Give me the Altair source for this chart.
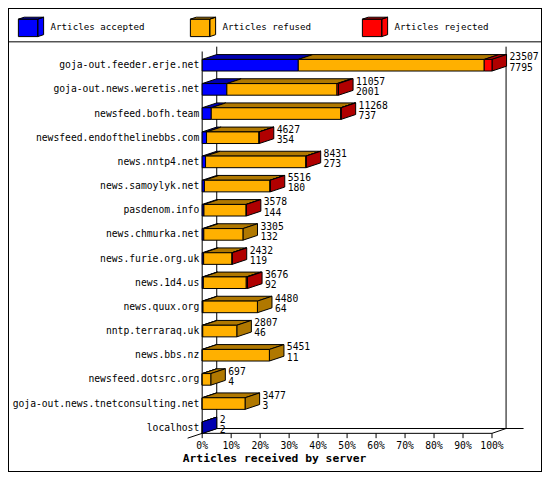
import altair as alt
import pandas as pd

# ---------------- data ----------------
servers = [
    "goja-out.feeder.erje.net",
    "goja-out.news.weretis.net",
    "newsfeed.bofh.team",
    "newsfeed.endofthelinebbs.com",
    "news.nntp4.net",
    "news.samoylyk.net",
    "pasdenom.info",
    "news.chmurka.net",
    "news.furie.org.uk",
    "news.1d4.us",
    "news.quux.org",
    "nntp.terraraq.uk",
    "news.bbs.nz",
    "newsfeed.dotsrc.org",
    "goja-out.news.tnetconsulting.net",
    "localhost",
]
offered = [23507, 11057, 11268, 4627, 8431, 5516, 3578, 3305, 2432, 3676, 4480, 2807, 5451, 697, 3477, 2]
accepted = [7795, 2001, 737, 354, 273, 180, 144, 132, 119, 92, 64, 46, 11, 4, 3, 2]
refused = [15082, 8936, 10506, 4253, 8138, 5321, 3424, 3173, 2303, 3484, 4416, 2761, 5440, 693, 3474, 0]
rejected = [630, 120, 25, 20, 20, 15, 10, 0, 10, 100, 0, 0, 0, 0, 0, 0]

kinds = ["Articles accepted", "Articles refused", "Articles rejected"]
front_colors = ["#0000FF", "#FFB000", "#FF0000"]
dark_colors = ["#0000B0", "#B07800", "#B00000"]
tick_values = [0, 10, 20, 30, 40, 50, 60, 70, 80, 90, 100]
x_title = "Articles received by server"

# ---------------- layout (reference pixels -> scale units) ----------------
W, H = 534, 464
PX0, PX100 = 200.0, 498.5
PPU = (PX100 - PX0) / 100.0
ROW0, ROWSTEP = 59.2, 25.0


def ux(px):
    return (px - PX0) / PPU


def uy(py):
    return (py - ROW0) / ROWSTEP


DX = 15 / PPU          # 3D depth, horizontal
DY = 5 / ROWSTEP       # 3D depth, vertical
HALF = 6 / ROWSTEP     # half height of a bar front face
FONT = "DejaVu Sans Mono"

xscale = alt.Scale(domain=[ux(0), ux(550)], nice=False, zero=False)
yscale = alt.Scale(domain=[uy(0), uy(480)], nice=False, zero=False, reverse=True)


def X(f):
    return alt.X(f, type="quantitative", scale=xscale, axis=None, stack=None)


def Y(f):
    return alt.Y(f, type="quantitative", scale=yscale, axis=None, stack=None)


maxv = max(offered)

front_rows, top_rows, side_rows, val_rows, cat_rows = [], [], [], [], []
for i, name in enumerate(servers):
    vals = [accepted[i], refused[i], rejected[i]]
    cum = 0.0
    last = 0
    for k, v in enumerate(vals):
        if v <= 0:
            continue
        s = cum / maxv * 100
        e = (cum + v) / maxv * 100
        cum += v
        last = k
        sid = f"{i}-{k}"
        front_rows.append(dict(kind=kinds[k], x0=s, x1=e, ya=i - HALF, yb=i + HALF))
        top_rows.append(dict(id=sid, dark=dark_colors[k], y=i - HALF, xa=s, xb=e))
        top_rows.append(dict(id=sid, dark=dark_colors[k], y=i - HALF - DY, xa=s + DX, xb=e + DX))
    end = cum / maxv * 100
    side_rows.append(dict(id=str(i), dark=dark_colors[last], x=end, ya=i - HALF, yb=i + HALF))
    side_rows.append(dict(id=str(i), dark=dark_colors[last], x=end + DX, ya=i - HALF - DY, yb=i + HALF - DY))
    val_rows.append(dict(x=end + DX + 3 / PPU, y=i - 8 / ROWSTEP, t=str(offered[i])))
    val_rows.append(dict(x=end + DX + 3 / PPU, y=i + 2.5 / ROWSTEP, t=str(accepted[i])))
    cat_rows.append(dict(x=ux(197), y=i, t=name))

front_df = pd.DataFrame(front_rows)
top_df = pd.DataFrame(top_rows)
side_df = pd.DataFrame(side_rows)
val_df = pd.DataFrame(val_rows)
cat_df = pd.DataFrame(cat_rows)

# frame / walls / floor lines
lines = [
    (0, 35, 550, 35),
    (200, 45, 200, 440),
    (215, 40, 215, 435),
    (513, 40, 513, 435),
    (200, 440, PX100, 440),
    (PX100, 440, 513, 435),
    (185, 445, 215, 435),
    (215, 435, 531, 435),
]
line_df = pd.DataFrame([dict(xa=ux(a), ya=uy(b), xb=ux(c), yb=uy(d)) for a, b, c, d in lines])
tick_df = pd.DataFrame(dict(x=tick_values, ya=[uy(440)] * len(tick_values),
                            yb=[uy(445)] * len(tick_values),
                            yl=[uy(452.7)] * len(tick_values),
                            t=[f"{v}%" for v in tick_values]))
title_df = pd.DataFrame(dict(x=[ux(180)], y=[uy(467)], t=[x_title]))

cube = ("M-1,-0.615H0.538V0.769H-1Z"
        "M-1,-0.615L-0.538,-0.769H1L0.538,-0.615Z"
        "M0.538,-0.615L1,-0.769V0.615L0.538,0.769Z")

walls = alt.Chart(line_df).mark_rule(color="black", strokeWidth=1).encode(
    x=X("xa"), y=Y("ya"), x2="xb", y2="yb")

ticks = alt.Chart(tick_df).mark_rule(color="black", strokeWidth=1).encode(
    x=X("x"), y=Y("ya"), y2="yb")

tick_labels = alt.Chart(tick_df).mark_text(
    font=FONT, fontSize=9.7, align="center", baseline="middle", color="black").encode(
    x=X("x"), y=Y("yl"), text="t:N")

title = alt.Chart(title_df).mark_text(
    font=FONT, fontSize=11.3, fontWeight="bold", align="left", baseline="middle",
    color="black").encode(x=X("x"), y=Y("y"), text="t:N")

tops = alt.Chart(top_df).mark_area(orient="horizontal", stroke="black", strokeWidth=1).encode(
    y=Y("y"), x=X("xa"), x2="xb", detail="id:N", fill=alt.Fill("dark:N", scale=None))

sides = alt.Chart(side_df).mark_area(orient="vertical", stroke="black", strokeWidth=1).encode(
    x=X("x"), y=Y("ya"), y2="yb", detail="id:N", fill=alt.Fill("dark:N", scale=None))

fronts = alt.Chart(front_df).mark_rect(stroke="black", strokeWidth=1).encode(
    x=X("x0"), x2="x1", y=Y("ya"), y2="yb",
    color=alt.Color("kind:N", scale=alt.Scale(domain=kinds, range=front_colors),
                    legend=alt.Legend(
                        title=None, orient="none", legendX=9.5, legendY=5,
                        direction="horizontal", columns=3, gridAlign="all",
                        columnPadding=42, symbolType=cube, symbolSize=636,
                        symbolStrokeColor="black", symbolStrokeWidth=1,
                        symbolOpacity=1, labelOffset=6,
                        labelFont=FONT, labelFontSize=9.2, labelColor="black",
                        labelLimit=200)))

values = alt.Chart(val_df).mark_text(
    font=FONT, fontSize=9.7, align="left", baseline="middle", color="black").encode(
    x=X("x"), y=Y("y"), text="t:N")

cats = alt.Chart(cat_df).mark_text(
    font=FONT, fontSize=9.7, align="right", baseline="middle", color="black").encode(
    x=X("x"), y=Y("y"), text="t:N")

chart = alt.layer(walls, ticks, tick_labels, title, tops, sides, fronts, values, cats).properties(
    width=W, height=H, autosize=alt.AutoSizeParams(type="none"), padding=0,
    background="white",
).configure_view(stroke="black", strokeWidth=2)

chart.save("out.html", embed_options={"renderer": "svg", "actions": False})
